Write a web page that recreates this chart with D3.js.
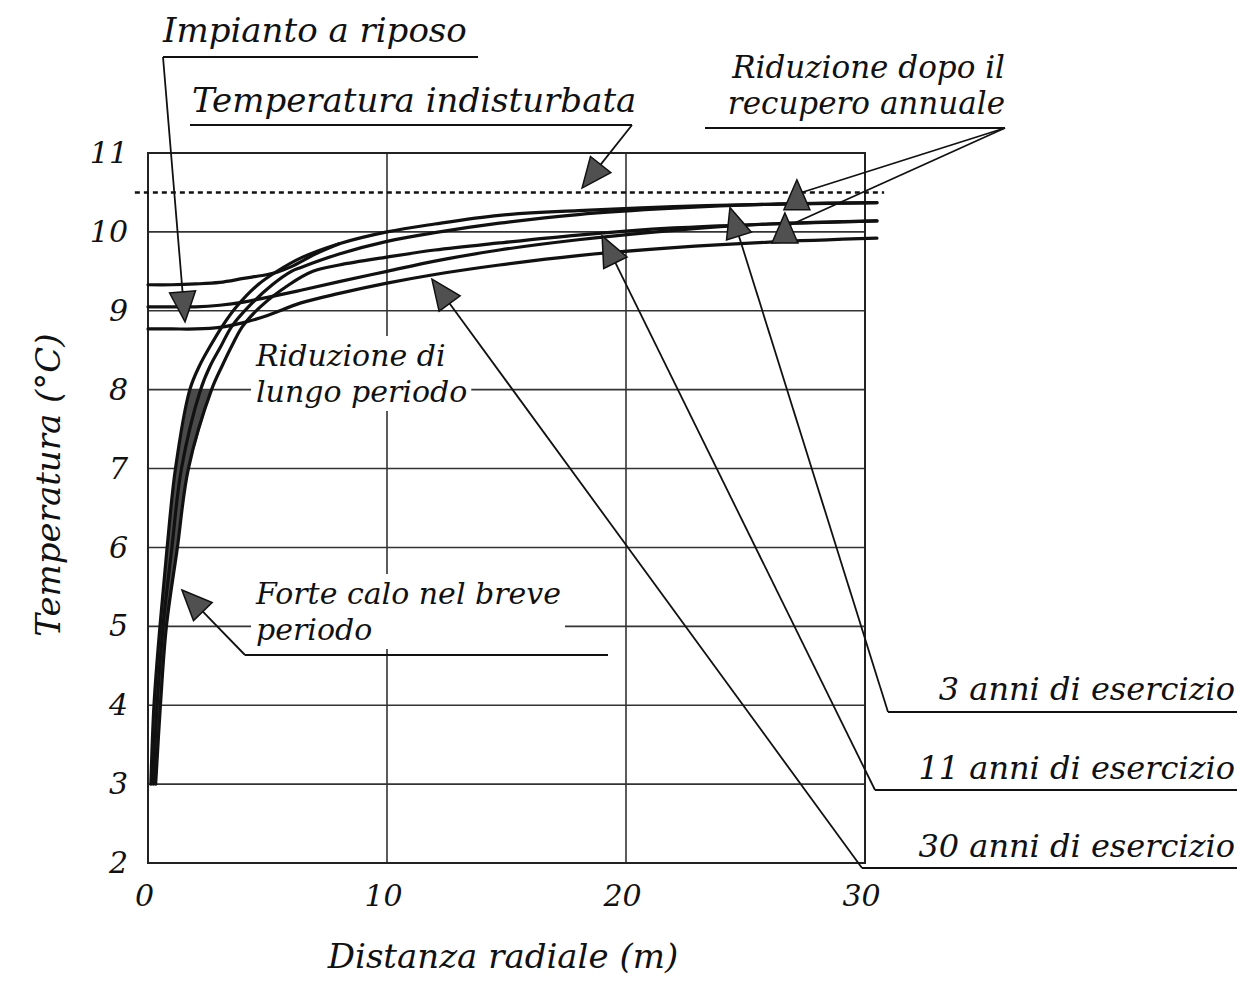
<!DOCTYPE html>
<html><head><meta charset="utf-8">
<script src="https://cdn.jsdelivr.net/npm/d3@7"></script>
<style>body{margin:0;background:#fff}</style>
</head><body>
<svg id="chart" width="1255" height="995"></svg>
<script>
// ---------- data ----------
const xTicks = [0, 10, 20, 30];
const yTicks = [2, 3, 4, 5, 6, 7, 8, 9, 10, 11];
const xTickLabels = ["0", "10", "20", "30"];
const yTickLabels = ["2", "3", "4", "5", "6", "7", "8", "9", "10", "11"];
const xTitle = "Distanza radiale (m)";
const yTitle = "Temperatura (°C)";

// undisturbed ground temperature (dotted)
const undisturbedR = [-0.55, 30.8];
const undisturbedT = [10.5, 10.5];

// operating curves (radial distance m, temperature °C)
const op3R  = [0.12, 0.25, 0.5, 0.8, 1.15, 1.75, 2.15, 2.6, 3.1, 3.7, 4.6, 5.4, 6.4, 8, 10, 12, 14.7, 18, 22, 26, 30.5];
const op3T  = [3, 4, 5, 6, 7, 8, 8.3, 8.55, 8.8, 9.05, 9.33, 9.5, 9.67, 9.85, 10.0, 10.1, 10.21, 10.27, 10.32, 10.35, 10.37];
const op11R = [0.22, 0.38, 0.63, 1.0, 1.4, 2.2, 2.6, 3.05, 3.5, 4.2, 5.2, 6.0, 6.4, 8, 10, 12, 14.7, 18, 22, 26, 30.5];
const op11T = [3, 4, 5, 6, 7, 8, 8.3, 8.55, 8.8, 9.05, 9.33, 9.5, 9.55, 9.72, 9.88, 9.99, 10.11, 10.22, 10.3, 10.35, 10.37];
const op30R = [0.32, 0.52, 0.77, 1.23, 1.69, 2.66, 3.1, 3.5, 3.95, 4.7, 5.9, 6.9, 8, 10, 12, 14.7, 18, 22, 26, 30.5];
const op30T = [3, 4, 5, 6, 7, 8, 8.3, 8.55, 8.8, 9.05, 9.33, 9.5, 9.58, 9.68, 9.77, 9.86, 9.96, 10.05, 10.1, 10.14];

// curves after the rest period
const rest3R  = [0, 1, 2, 3, 4, 5, 5.4, 6, 7, 8];
const rest3T  = [9.33, 9.33, 9.34, 9.36, 9.41, 9.46, 9.49, 9.56, 9.72, 9.85];
const rest11R = [0, 1, 2, 3, 4, 5, 6.4, 8, 10, 12, 14.7, 18, 22, 26, 30.5];
const rest11T = [9.05, 9.05, 9.05, 9.07, 9.11, 9.17, 9.26, 9.37, 9.5, 9.63, 9.77, 9.9, 10.02, 10.1, 10.14];
const rest30R = [0, 1, 2, 3, 4, 5, 6.4, 8, 10, 12, 14.7, 18, 22, 26, 30.5];
const rest30T = [8.77, 8.77, 8.77, 8.79, 8.85, 8.94, 9.1, 9.22, 9.35, 9.46, 9.58, 9.7, 9.8, 9.87, 9.92];

// annotation arrow tips (data units)
const tipImpianto   = [1.55, 8.86];
const tipIndist     = [18.16, 10.555];
const tipRecupero1  = [27.15, 10.66];
const tipRecupero2  = [26.65, 10.24];
const tip3anni      = [24.35, 10.31];
const tip11anni     = [19.0, 9.95];
const tip30anni     = [11.88, 9.40];
const tipForteCalo  = [1.42, 5.46];

// ---------- drawing ----------
const svg = d3.select("#chart");
const FONT = "'DejaVu Serif', serif";
const x = d3.scaleLinear().domain([0, 30]).range([148, 865]);
const y = d3.scaleLinear().domain([2, 11]).range([863, 153]);
const pts = (R, T) => R.map((r, i) => [r, T[i]]);
const line = d3.line().x(d => x(d[0])).y(d => y(d[1])).curve(d3.curveCatmullRom.alpha(0.5));

// grid
const g = svg.append("g");
g.selectAll(".hg").data(yTicks.filter(v => v > 2 && v < 11)).join("line")
  .attr("x1", x(0)).attr("x2", x(30)).attr("y1", d => y(d)).attr("y2", d => y(d))
  .attr("stroke", "#333").attr("stroke-width", 1.6);
g.selectAll(".vg").data(xTicks.filter(v => v > 0 && v < 30)).join("line")
  .attr("y1", y(2)).attr("y2", y(11)).attr("x1", d => x(d)).attr("x2", d => x(d))
  .attr("stroke", "#333").attr("stroke-width", 1.6);
g.append("rect").attr("x", x(0)).attr("y", y(11)).attr("width", x(30) - x(0)).attr("height", y(2) - y(11))
  .attr("fill", "none").attr("stroke", "#222").attr("stroke-width", 2);

// axes tick labels
const yAxis = svg.append("g").attr("transform", `translate(${x(0)},0)`)
  .call(d3.axisLeft(y).tickValues(yTicks).tickSize(0).tickPadding(20).tickFormat((d, i) => yTickLabels[i]));
yAxis.select(".domain").remove();
yAxis.selectAll("text").attr("font-family", FONT).attr("font-style", "italic").attr("font-size", 30).attr("fill", "#111");
const xAxis = svg.append("g").attr("transform", `translate(0,${y(2)})`)
  .call(d3.axisBottom(x).tickValues(xTicks).tickSize(0).tickPadding(22).tickFormat((d, i) => xTickLabels[i]));
xAxis.select(".domain").remove();
xAxis.selectAll("text").attr("font-family", FONT).attr("font-style", "italic").attr("font-size", 30).attr("fill", "#111")
  .attr("dx", -4);

svg.append("text").attr("x", 503).attr("y", 968).attr("text-anchor", "middle")
  .attr("font-family", FONT).attr("font-style", "italic").attr("font-size", 34).attr("fill", "#111").text(xTitle);
svg.append("text").attr("transform", "translate(60,485) rotate(-90)").attr("text-anchor", "middle")
  .attr("font-family", FONT).attr("font-style", "italic").attr("font-size", 34).attr("fill", "#111").text(yTitle);

// helper for text
function label(lines, xx, yy, anchor, size, lh, bg) {
  const grp = svg.append("g");
  lines.forEach((s, i) => grp.append("text").attr("font-family", FONT).attr("font-style", "italic")
    .attr("font-size", size).attr("fill", "#111").attr("text-anchor", anchor)
    .attr("x", xx).attr("y", yy + i * lh).text(s));
  if (bg) {
    const b = grp.node().getBBox();
    grp.insert("rect", ":first-child").attr("x", b.x - 4).attr("y", b.y - 2).attr("width", b.width + 8)
      .attr("height", b.height + 4).attr("fill", "#fff");
  }
  return grp;
}

// in-plot labels with white background (hide grid)
label(["Riduzione di", "lungo periodo"], 256, 366, "start", 30, 36, true);
label(["Forte calo nel breve", "periodo"], 256, 604, "start", 30, 36, true);

// curves
const curveG = svg.append("g").attr("fill", "none").attr("stroke", "#111").attr("stroke-linecap", "round");
// dark band where the three operating curves overlap
const bandTop = pts(op3R, op3T).filter(d => d[1] <= 8);
const bandBot = pts(op30R, op30T).filter(d => d[1] <= 8).reverse();
svg.insert("path", () => curveG.node())
  .attr("d", d3.line().x(d => x(d[0])).y(d => y(d[1])).curve(d3.curveLinearClosed)(bandTop.concat(bandBot)))
  .attr("fill", "#4a4a4a").attr("stroke", "none");

curveG.append("path").attr("d", d3.line().x(d => x(d[0])).y(d => y(d[1]))(pts(undisturbedR, undisturbedT)))
  .attr("stroke-width", 2.4).attr("stroke-dasharray", "5,4").attr("stroke-linecap", "butt");
[[rest3R, rest3T], [rest11R, rest11T], [rest30R, rest30T], [op3R, op3T], [op11R, op11T], [op30R, op30T]]
  .forEach(([R, T]) => curveG.append("path").attr("d", line(pts(R, T))).attr("stroke-width", 3.2));

// annotations: text + underline + leader + triangle
const annG = svg.append("g").attr("stroke", "#111").attr("stroke-width", 1.8).attr("fill", "none");
const triG = svg.append("g");
function arrow(tip, from, via, dirAngle) {
  const tx = x(tip[0]), ty = y(tip[1]);
  let ang;
  if (dirAngle !== undefined) ang = dirAngle * Math.PI / 180;
  else ang = Math.atan2(ty - from[1], tx - from[0]);
  const L = 30, W = 13;
  const bx = tx - L * Math.cos(ang), by = ty - L * Math.sin(ang);
  const px = -Math.sin(ang) * W, py = Math.cos(ang) * W;
  const c = via || [bx + (tx - bx) * 0.3, by + (ty - by) * 0.3];
  annG.append("path").attr("d", d3.line()([from, c]));
  triG.append("path").attr("d", d3.line()([[tx, ty], [bx + px, by + py], [bx - px, by - py]]) + "Z")
    .attr("fill", "#505050").attr("stroke", "#111").attr("stroke-width", 1.5);
}
function hline(x1, x2, yy) { annG.append("line").attr("x1", x1).attr("x2", x2).attr("y1", yy).attr("y2", yy); }

label(["Impianto a riposo"], 163, 42, "start", 34, 0, false);
hline(163, 478, 57);
arrow(tipImpianto, [163, 57]);

label(["Temperatura indisturbata"], 192, 112, "start", 34, 0, false);
hline(190, 632, 125);
arrow(tipIndist, [632, 125]);

label(["Riduzione dopo il", "recupero annuale"], 1005, 78, "end", 31, 36, false);
hline(705, 1005, 128);
arrow(tipRecupero1, [1005, 128], [800, 193], -90);
arrow(tipRecupero2, [1005, 128], [788, 226], -90);

label(["3 anni di esercizio"], 1235, 700, "end", 32, 0, false);
hline(888, 1237, 712);
arrow(tip3anni, [888, 712]);
label(["11 anni di esercizio"], 1235, 779, "end", 32, 0, false);
hline(875, 1237, 790);
arrow(tip11anni, [875, 790]);
label(["30 anni di esercizio"], 1235, 857, "end", 32, 0, false);
hline(862, 1237, 868);
arrow(tip30anni, [862, 868]);

hline(245, 608, 655);
arrow(tipForteCalo, [245, 655]);
</script>
</body></html>
